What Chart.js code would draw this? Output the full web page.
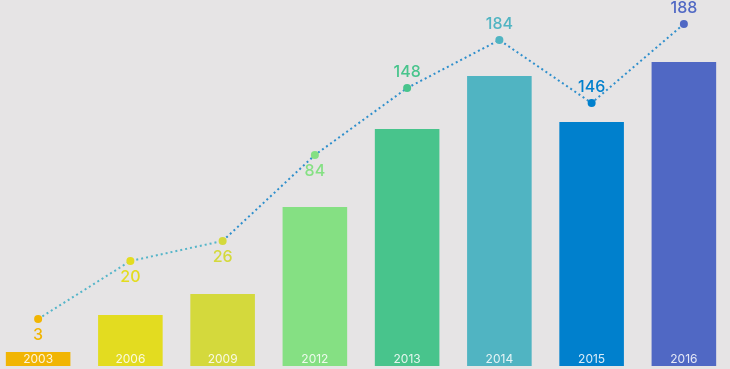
<!DOCTYPE html>
<html>
<head>
<meta charset="utf-8">
<script src="https://cdn.jsdelivr.net/npm/chart.js@4/dist/chart.umd.min.js"></script>
<style>
  html, body { margin: 0; padding: 0; background: #e6e4e5; overflow: hidden; }
  #wrap { position: relative; width: 730px; height: 369px; overflow: hidden; }
  #chart { position: absolute; left: -12px; top: -4px; }
</style>
</head>
<body>
<div id="wrap">
  <canvas id="chart" width="746" height="374"></canvas>
</div>
<script>
// data
var years = ['2003', '2006', '2009', '2012', '2013', '2014', '2015', '2016'];
var barHeights = [14, 51, 72, 159, 237, 290, 244, 304];
var lineLevels = [47, 105, 125, 211, 278, 326, 263, 342];
var pointLabels = ['3', '20', '26', '84', '148', '184', '146', '188'];
var colors = ['#f1b503', '#e3dc20', '#d4d93c', '#85e083', '#48c48c', '#50b4c2', '#0080cd', '#5068c4'];

var fontFamily = 'Inter, "Open Sans", sans-serif';

// year labels inside the bars + value labels next to points
var labelPlugin = {
  id: 'labelPlugin',
  afterDatasetsDraw: function (chart) {
    var ctx = chart.ctx;
    var xScale = chart.scales.x;
    var area = chart.chartArea;
    var lineMeta = chart.getDatasetMeta(0);
    ctx.save();
    ctx.textAlign = 'center';
    ctx.textBaseline = 'middle';

    ctx.font = '400 12px ' + fontFamily;
    ctx.fillStyle = 'rgba(255,255,255,0.85)';
    years.forEach(function (y, i) {
      ctx.fillText(y, xScale.getPixelForValue(i), area.bottom - 7);
    });

    ctx.font = '500 16px ' + fontFamily;
    lineMeta.data.forEach(function (pt, i) {
      var below = i < 4;
      ctx.fillStyle = colors[i];
      ctx.fillText(pointLabels[i], pt.x, below ? pt.y + 16 : pt.y - 16);
    });
    ctx.restore();
  }
};

var ctx = document.getElementById('chart').getContext('2d');
var chart = new Chart(ctx, {
  data: {
    labels: years,
    datasets: [{
      type: 'line',
      data: lineLevels,
      order: 0,
      borderWidth: 2,
      borderDash: [2, 3],
      fill: false,
      tension: 0,
      pointRadius: 4,
      pointHoverRadius: 4,
      pointBorderWidth: 0,
      pointBackgroundColor: colors,
      segment: {
        borderColor: function (c) {
          return c.p0DataIndex < 2 ? '#55b5c9' : '#2f8fcc';
        }
      }
    }, {
      type: 'bar',
      data: barHeights,
      order: 1,
      backgroundColor: colors,
      borderWidth: 0,
      barPercentage: 0.7,
      categoryPercentage: 1
    }]
  },
  options: {
    responsive: false,
    animation: false,
    devicePixelRatio: 1,
    layout: { padding: 0 },
    plugins: {
      legend: { display: false },
      tooltip: { enabled: false }
    },
    scales: {
      x: { display: false, offset: true },
      y: { display: false, min: 0, max: 366 }
    }
  },
  plugins: [labelPlugin]
});
</script>
</body>
</html>
